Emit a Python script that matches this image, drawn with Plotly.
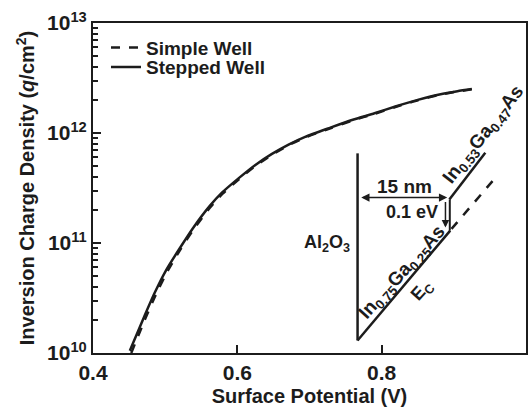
import plotly.graph_objects as go

# Surface potential (V) and inversion charge density (q/cm^2)
potential_stepped = [0.451, 0.469, 0.485, 0.501, 0.520, 0.538, 0.561, 0.579, 0.602, 0.625,
                     0.648, 0.671, 0.694, 0.729, 0.760, 0.790, 0.819, 0.850, 0.880, 0.905, 0.925]
charge_stepped = [1.05e10, 2.00e10, 3.47e10, 5.62e10, 8.91e10, 1.35e11, 2.14e11, 2.88e11, 3.89e11, 5.13e11,
                  6.46e11, 7.85e11, 9.23e11, 1.12e12, 1.32e12, 1.51e12, 1.74e12, 2.00e12, 2.24e12, 2.40e12, 2.51e12]

potential_simple = [0.453, 0.471, 0.487, 0.503, 0.521, 0.539, 0.562, 0.580, 0.603, 0.626,
                    0.649, 0.672, 0.695, 0.730, 0.761, 0.791, 0.820, 0.851, 0.881, 0.906, 0.926]
charge_simple = [1.00e10, 1.95e10, 3.39e10, 5.50e10, 8.71e10, 1.32e11, 2.09e11, 2.82e11, 3.84e11, 5.07e11,
                 6.40e11, 7.80e11, 9.17e11, 1.11e12, 1.31e12, 1.50e12, 1.73e12, 1.99e12, 2.23e12, 2.39e12, 2.50e12]

x_ticks = [0.4, 0.6, 0.8, 1.0]
x_ticktext = ["0.4", "0.6", "0.8", "1"]
y_ticks = [1e10, 1e11, 1e12, 1e13]
y_ticktext = ["10<sup>10</sup>", "10<sup>11</sup>", "10<sup>12</sup>", "10<sup>13</sup>"]
y_minor = [m * 10 ** e for e in range(10, 13) for m in range(2, 10)]

INK = "#1c1c1c"
FONT = "Liberation Sans, Arial, sans-serif"

# Band-diagram inset (axis-domain fractions)
oxide_wall = [(0.611, 0.605), (0.611, 0.038)]
lower_band = [(0.611, 0.038), (0.825, 0.371)]
band_step = [(0.824, 0.371), (0.824, 0.465)]
upper_band = [(0.823, 0.465), (0.906, 0.607)]
simple_band = [(0.828, 0.376), (0.924, 0.523)]

fig = go.Figure()
fig.add_trace(go.Scatter(x=potential_simple, y=charge_simple, mode="lines",
                         name="Simple Well", legend="legend",
                         line=dict(color=INK, width=2.5, dash="dash", shape="spline", smoothing=0.6)))
fig.add_trace(go.Scatter(x=potential_stepped, y=charge_stepped, mode="lines",
                         name="Stepped Well", legend="legend2",
                         line=dict(color=INK, width=2.5, shape="spline", smoothing=0.6)))

def seg(pts, dash="solid", width=2.5):
    (x0, y0), (x1, y1) = pts
    fig.add_shape(type="line", xref="x domain", yref="y domain",
                  x0=x0, y0=y0, x1=x1, y1=y1,
                  line=dict(color=INK, width=width, dash=dash))

seg(oxide_wall)
seg(lower_band)
seg(band_step, width=2)
seg(upper_band)
seg(simple_band, dash="dash")

# 15 nm dimension arrow
fig.add_annotation(xref="x domain", yref="y domain", axref="x domain", ayref="y domain",
                   x=0.818, y=0.471, ax=0.616, ay=0.471, text="", showarrow=True,
                   arrowhead=2, startarrowhead=2, arrowside="end+start",
                   arrowsize=1.1, arrowwidth=1.5, arrowcolor=INK)
# 0.1 eV step arrow
fig.add_annotation(xref="x domain", yref="y domain", axref="x domain", ayref="y domain",
                   x=0.814, y=0.380, ax=0.814, ay=0.462, text="", showarrow=True,
                   arrowhead=2, arrowsize=1.0, arrowwidth=1.5, arrowcolor=INK)

def label(text, x, y, size=18, angle=0, xanchor="center"):
    fig.add_annotation(xref="x domain", yref="y domain", x=x, y=y, text=text,
                       showarrow=False, textangle=angle, xanchor=xanchor, yanchor="middle",
                       font=dict(family=FONT, size=size, color=INK, weight="bold"))

label("15 nm", 0.720, 0.504, size=19)
label("0.1 eV", 0.736, 0.426, size=18)
label("Al<sub>2</sub>O<sub>3</sub>", 0.597, 0.332, size=18, xanchor="right")
label("In<sub>0.53</sub>Ga<sub>0.47</sub>As", 0.903, 0.660, size=19, angle=-52)
label("In<sub>0.75</sub>Ga<sub>0.25</sub>As", 0.715, 0.241, size=19, angle=-48)
label("E<sub>C</sub>", 0.762, 0.188, size=18, angle=-48)

axis_common = dict(showline=True, linecolor=INK, linewidth=2, mirror=True,
                   showgrid=False, zeroline=False, ticks="inside", tickcolor=INK,
                   tickwidth=2, ticklen=8,
                   tickfont=dict(family=FONT, size=21, color=INK, weight="bold"))

legend_common = dict(x=0.03, xanchor="left", yanchor="middle",
                     bgcolor="rgba(0,0,0,0)", itemwidth=30,
                     font=dict(family=FONT, size=19, color=INK, weight="bold"))

fig.update_layout(
    width=530, height=410,
    margin=dict(l=93, r=2, t=23, b=57),
    paper_bgcolor="white", plot_bgcolor="white",
    font=dict(family=FONT, color=INK),
    xaxis=dict(range=[0.4, 1.0], tickvals=x_ticks, ticktext=x_ticktext,
               title=dict(text="Surface Potential (V)", standoff=6,
                          font=dict(family=FONT, size=20, color=INK, weight="bold")),
               **axis_common),
    yaxis=dict(type="log", range=[10, 13], tickvals=y_ticks, ticktext=y_ticktext,
               minor=dict(tickvals=y_minor, ticks="inside", ticklen=5, tickwidth=2,
                          tickcolor=INK, showgrid=False),
               title=dict(text="Inversion Charge Density (<i>q</i>/cm<sup>2</sup>)", standoff=7,
                          font=dict(family=FONT, size=20, color=INK, weight="bold")),
               **axis_common),
    legend=dict(y=0.925, **legend_common),
    legend2=dict(y=0.866, **legend_common),
    showlegend=True,
)

fig.write_html("out.html")
